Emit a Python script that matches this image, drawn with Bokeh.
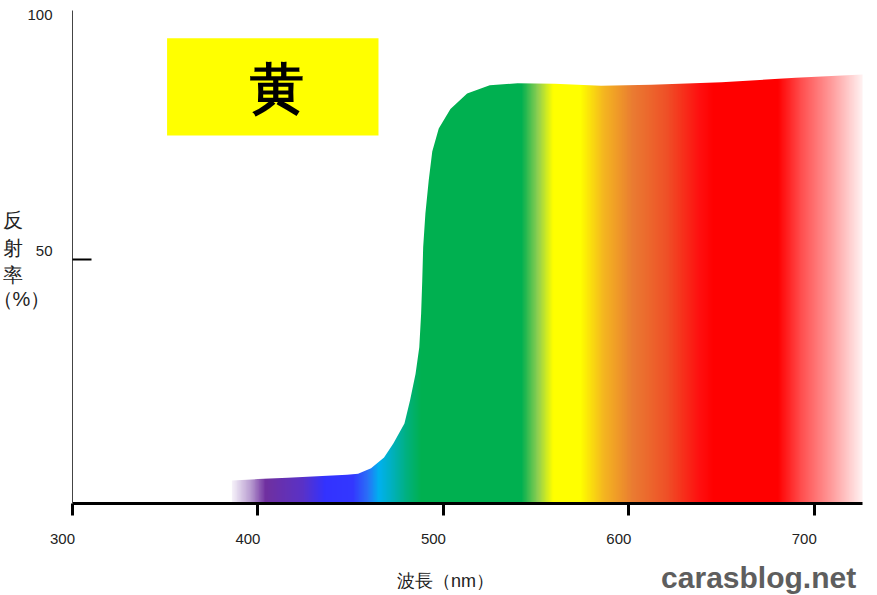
import numpy as np
from bokeh.plotting import figure
from bokeh.models import Range1d, FixedTicker, Label, BoxAnnotation
from bokeh.embed import file_html
from bokeh.resources import INLINE

# ---- data ----
wavelength = [386, 400, 416, 432, 448, 454, 461, 468, 473, 479, 482, 485, 487,
              488, 488.6, 489.1, 490.3, 492.1, 494, 497.5, 503.8, 512.8, 525,
              540, 560, 585, 612, 650, 690, 726]
reflectance = [4.7, 5.0, 5.3, 5.6, 5.9, 6.1, 7.2, 9.4, 12.3, 16.4, 21.1, 26.6, 32.0,
               38.9, 45.7, 52.5, 59.4, 66.2, 72.1, 76.8, 80.8, 84.0, 85.7,
               86.1, 86.0, 85.6, 85.8, 86.3, 87.2, 87.9]

grad_nm = [386, 396, 404, 424, 436, 451, 459, 465, 472, 480, 488, 542, 551, 559,
           574, 586, 602, 620, 638, 646, 680, 693, 710, 726]
grad_colors = ["#f6f2fa", "#b89cd0", "#7030a0", "#5a32c8", "#3333ff", "#3338ff",
               "#2a70f8", "#00b0f0", "#00b0c0", "#00b080", "#00b050", "#00b050",
               "#92d050", "#ffff00", "#ffff00", "#f5b820", "#ea7c32", "#ef5228",
               "#ff1010", "#ff0000", "#ff0000", "#ff5050", "#ffa0a0", "#fff4f4"]

x_ticks = [300, 400, 500, 600, 700]
y_ticks = [100, 50]
y_tick_labels = ["100", "50"]
color_name = "黄"
x_title = "波長（nm）"
y_title_parts = ["反", "射", "率", "（%）"]
watermark = "carasblog.net"

W, H = 877, 595
# axis extents: 300..726 nm and 0..101 % ; the frame covers the whole canvas
SX = 790 / 426.0          # px per nm
SY = 493 / 101.0          # px per %
x0 = 300 - 72 / SX
y1 = 101 + 10 / SY

p = figure(width=W, height=H,
           x_range=Range1d(x0, x0 + W / SX), y_range=Range1d(y1 - H / SY, y1),
           output_backend="svg", toolbar_location=None, title_location=None,
           min_border_left=0, min_border_right=0, min_border_top=0, min_border_bottom=0)
p.outline_line_color = None
p.grid.visible = False
p.background_fill_color = "white"
p.border_fill_color = "white"

# ---- spectrum gradient under the curve ----
def hex2rgb(h):
    h = h.lstrip("#")
    return [int(h[i:i + 2], 16) for i in (0, 2, 4)]

rgb = np.array([hex2rgb(c) for c in grad_colors], dtype=float)
xs = np.linspace(grad_nm[0], grad_nm[-1], 1400)
img = np.empty((1, len(xs)), dtype=np.uint32)
view = img.view(dtype=np.uint8).reshape((1, len(xs), 4))
for k in range(3):
    view[0, :, k] = np.interp(xs, grad_nm, rgb[:, k]).astype(np.uint8)
view[0, :, 3] = 255
p.image_rgba(image=[img], x=grad_nm[0], y=0, dw=grad_nm[-1] - grad_nm[0], dh=92)

# white mask above the reflectance curve
mx = [wavelength[0] - 1] + wavelength + [wavelength[-1] + 1, wavelength[-1] + 1, wavelength[0] - 1]
my = [reflectance[0]] + reflectance + [reflectance[-1], 110, 110]
p.patch(mx, my, fill_color="white", line_color=None)

# ---- axes (fixed inside the canvas) ----
xa = p.xaxis[0]
xa.fixed_location = 0
xa.bounds = (300, 726)
xa.ticker = FixedTicker(ticks=x_ticks)
xa.axis_line_width = 3
xa.axis_line_color = "black"
xa.major_tick_line_width = 3
xa.major_tick_line_color = "black"
xa.major_tick_out = 12
xa.major_tick_in = 0
xa.minor_tick_line_color = None
xa.major_label_overrides = {t: "" for t in x_ticks}

ya = p.yaxis[0]
ya.fixed_location = 300
ya.bounds = (0, 101)
ya.ticker = FixedTicker(ticks=[50])
ya.axis_line_width = 1
ya.axis_line_color = "#444444"
ya.major_tick_in = 19
ya.major_tick_out = 0
ya.major_tick_line_width = 2
ya.major_tick_line_color = "black"
ya.minor_tick_line_color = None
ya.major_label_overrides = {50: ""}

# tick labels
for t in x_ticks:
    p.add_layout(Label(x=t, y=0, x_offset=-10, y_offset=-35, text=str(t),
                       text_align="center", text_baseline="middle",
                       text_font_size="15px", text_color="#222222"))
for v, s in zip(y_ticks, y_tick_labels):
    p.add_layout(Label(x=300, y=v, x_offset=-20, y_offset=(8 if v == 50 else 0), text=s,
                       text_align="right", text_baseline="middle",
                       text_font_size="15px", text_color="#222222"))

# axis titles
p.add_layout(Label(x=500, y=0, x_offset=2, y_offset=-77, text=x_title,
                   text_align="center", text_baseline="middle",
                   text_font_size="18px", text_color="#222222"))
for s, yo, xo in zip(y_title_parts, [39, 11, -16, -40], [-60, -60, -60, -51]):
    p.add_layout(Label(x=300, y=50, x_offset=xo, y_offset=yo, text=s,
                       text_align="center", text_baseline="middle",
                       text_font_size="20px", text_color="#222222"))

# colour name box
p.add_layout(BoxAnnotation(left=351, right=465, bottom=75.4, top=95.3,
                           fill_color="#ffff00", fill_alpha=1.0, line_color=None))
p.add_layout(Label(x=410.5, y=85.2, text=color_name, text_align="center",
                   text_baseline="middle", text_font_size="54px",
                   text_font_style="bold", text_color="black"))

# watermark
p.add_layout(Label(x=670, y=0, y_offset=-74, text=watermark, text_align="center",
                   text_baseline="alphabetic",
                   text_font_size="30px", text_font_style="bold", text_color="#5e5e5e"))

open("out.html", "w").write(file_html(p, INLINE))
